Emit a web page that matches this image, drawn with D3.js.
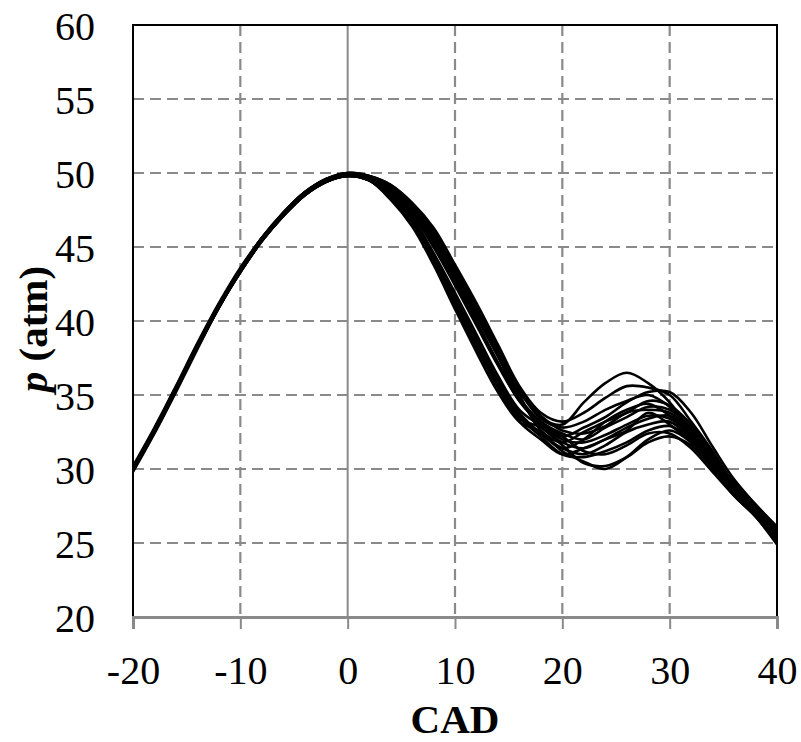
<!DOCTYPE html>
<html>
<head>
<meta charset="utf-8">
<script src="https://cdn.jsdelivr.net/npm/d3@7/dist/d3.min.js"></script>
<style>
	html, body { margin: 0; padding: 0; background: #fff; }
	svg { display: block; }
	.tick-label { font-family: 'Liberation Serif', 'Times New Roman', serif; font-size: 40px; fill: #000; }
	.axis-title { font-family: 'Liberation Serif', 'Times New Roman', serif; font-size: 41px; font-weight: bold; fill: #000; }
</style>
</head>
<body>
<div id="canvas"></div>
<script>
/* global d3 */

// Crank angle samples (CAD)
var cad = [-20, -18, -16, -14, -12, -10, -8, -6, -4, -2, 0, 2, 4, 6, 8, 10,
	12, 14, 16, 18, 20, 22, 24, 26, 28, 30, 32, 34, 36, 38, 40];

// Pressure traces (atm), one per cycle
var cycle01 = [29.9, 32.5, 35.4, 38.4, 41.1, 43.5, 45.6, 47.3, 48.7, 49.6, 50.0, 49.8, 49.2, 47.9, 46.1, 43.6, 41.0, 38.2, 35.4, 33.5, 33.0, 34.5, 35.8, 36.5, 35.8, 34.5, 32.5, 30.5, 28.8, 27.2, 25.5];
var cycle02 = [30.1, 32.7, 35.5, 38.3, 41.0, 43.3, 45.4, 47.1, 48.5, 49.4, 49.9, 49.8, 49.2, 48.0, 46.3, 43.8, 41.2, 38.4, 35.6, 33.8, 33.2, 33.8, 34.8, 35.6, 35.5, 35.0, 33.2, 31.2, 29.0, 27.4, 25.8];
var cycle03 = [30.0, 32.6, 35.3, 38.2, 40.9, 43.4, 45.5, 47.2, 48.6, 49.5, 49.8, 49.6, 48.9, 47.5, 45.5, 43.0, 40.3, 37.6, 34.8, 33.0, 32.2, 32.8, 33.5, 34.5, 35.2, 35.2, 33.8, 31.5, 29.3, 27.6, 26.0];
var cycle04 = [29.8, 32.4, 35.2, 38.1, 40.9, 43.3, 45.4, 47.1, 48.5, 49.4, 49.8, 49.5, 48.2, 46.4, 43.8, 40.8, 37.9, 35.2, 33.2, 32.5, 31.2, 30.5, 30.0, 30.8, 32.0, 32.6, 31.8, 30.2, 28.5, 27.0, 25.3];
var cycle05 = [30.0, 32.7, 35.5, 38.4, 41.1, 43.5, 45.6, 47.2, 48.6, 49.5, 49.9, 49.6, 48.3, 46.6, 44.0, 41.1, 38.2, 35.5, 33.4, 32.8, 31.6, 30.4, 30.2, 30.8, 31.8, 32.2, 31.6, 30.0, 28.2, 26.8, 25.0];
var cycle06 = [30.1, 32.6, 35.4, 38.3, 41.0, 43.4, 45.5, 47.3, 48.7, 49.6, 50.0, 49.7, 48.8, 47.4, 45.3, 42.8, 40.0, 37.2, 34.8, 33.2, 32.4, 32.0, 32.8, 33.5, 34.2, 34.0, 32.8, 30.8, 28.9, 27.3, 25.6];
var cycle07 = [29.9, 32.5, 35.3, 38.2, 41.0, 43.4, 45.4, 47.1, 48.5, 49.4, 49.8, 49.5, 48.3, 46.6, 44.1, 41.2, 38.4, 35.6, 33.2, 32.0, 31.0, 31.4, 32.0, 32.8, 33.4, 33.6, 32.4, 30.6, 28.6, 27.0, 25.2];
var cycle08 = [30.0, 32.6, 35.4, 38.3, 41.1, 43.5, 45.5, 47.2, 48.6, 49.5, 49.9, 49.7, 49.0, 47.7, 45.7, 43.2, 40.6, 37.8, 35.0, 32.6, 31.8, 32.5, 33.2, 33.8, 34.6, 34.3, 33.0, 31.0, 29.0, 27.4, 25.7];
var cycle09 = [30.2, 32.8, 35.6, 38.5, 41.2, 43.6, 45.6, 47.3, 48.7, 49.5, 49.9, 49.6, 48.7, 47.2, 45.0, 42.4, 39.7, 37.0, 34.6, 33.0, 32.0, 31.8, 32.3, 33.0, 33.6, 33.4, 32.2, 30.4, 28.7, 27.1, 25.4];
var cycle10 = [29.9, 32.5, 35.3, 38.2, 40.9, 43.3, 45.4, 47.1, 48.5, 49.4, 49.8, 49.5, 48.5, 46.9, 44.4, 41.6, 38.8, 36.0, 33.8, 32.4, 31.4, 31.0, 31.6, 32.5, 33.0, 33.2, 32.0, 30.3, 28.4, 26.9, 25.1];
var cycle11 = [30.0, 32.6, 35.5, 38.4, 41.1, 43.5, 45.6, 47.3, 48.7, 49.6, 50.0, 49.8, 49.1, 47.8, 45.9, 43.4, 40.8, 38.0, 35.3, 33.4, 32.8, 33.2, 34.0, 34.6, 35.0, 34.2, 32.6, 30.6, 28.8, 27.2, 25.5];
var cycle12 = [30.1, 32.7, 35.4, 38.3, 41.0, 43.4, 45.5, 47.2, 48.6, 49.5, 49.8, 49.5, 48.4, 46.7, 44.2, 41.4, 38.5, 35.7, 33.5, 32.2, 31.0, 30.8, 31.2, 31.8, 32.6, 32.9, 32.0, 30.4, 28.6, 27.1, 25.4];
var cycle13 = [29.9, 32.5, 35.4, 38.3, 41.0, 43.4, 45.5, 47.2, 48.6, 49.5, 49.9, 49.7, 49.0, 47.6, 45.6, 43.1, 40.5, 37.7, 35.2, 33.6, 32.6, 32.4, 32.9, 33.8, 34.0, 33.8, 32.6, 30.8, 29.1, 27.6, 26.1];
var cycle14 = [30.0, 32.6, 35.3, 38.2, 40.9, 43.3, 45.4, 47.1, 48.5, 49.4, 49.8, 49.6, 48.6, 47.0, 44.6, 41.9, 39.1, 36.3, 34.0, 32.9, 31.8, 31.4, 32.0, 32.6, 33.8, 33.0, 31.8, 30.1, 28.3, 26.8, 24.9];
var cycle15 = [30.0, 32.5, 35.4, 38.3, 41.0, 43.4, 45.5, 47.2, 48.6, 49.5, 49.9, 49.6, 48.5, 46.8, 44.3, 41.5, 38.7, 35.9, 33.7, 32.4, 31.4, 32.0, 33.2, 34.0, 34.4, 33.6, 32.2, 30.4, 28.8, 27.3, 25.6];
var cycle16 = [30.1, 32.7, 35.5, 38.4, 41.1, 43.5, 45.6, 47.3, 48.7, 49.5, 49.9, 49.7, 48.8, 47.3, 45.2, 42.6, 39.9, 37.1, 34.6, 33.1, 32.2, 31.2, 31.0, 31.6, 32.4, 32.4, 31.4, 29.8, 28.2, 26.8, 25.2];

var cycles = [cycle01, cycle02, cycle03, cycle04, cycle05, cycle06, cycle07, cycle08,
	cycle09, cycle10, cycle11, cycle12, cycle13, cycle14, cycle15, cycle16];

// Axis ticks
var xTicks = [-20, -10, 0, 10, 20, 30, 40];
var yTicks = [20, 25, 30, 35, 40, 45, 50, 55, 60];

// Layout
var outerWidth = 801,
	outerHeight = 742,
	plot = { left: 133, right: 777, top: 25, bottom: 617 };

var svg = d3.select('#canvas').append('svg')
	.attr('width', outerWidth)
	.attr('height', outerHeight);

var xScale = d3.scaleLinear().domain([-20, 40]).range([plot.left, plot.right]),
	yScale = d3.scaleLinear().domain([20, 60]).range([plot.bottom, plot.top]);

var gridColor = '#8a8a8a';

// Dashed gridlines
svg.append('g').selectAll('line')
	.data(yTicks.filter(function(d) { return d > 20; }))
	.enter().append('line')
	.attr('x1', plot.left).attr('x2', plot.right)
	.attr('y1', function(d) { return yScale(d); })
	.attr('y2', function(d) { return yScale(d); })
	.attr('stroke', gridColor)
	.attr('stroke-width', 2.2)
	.attr('stroke-dasharray', '11,6');

svg.append('g').selectAll('line')
	.data(xTicks.filter(function(d) { return d !== 0 && d > -20 && d < 40; }))
	.enter().append('line')
	.attr('y1', plot.top).attr('y2', plot.bottom)
	.attr('x1', function(d) { return xScale(d); })
	.attr('x2', function(d) { return xScale(d); })
	.attr('stroke', gridColor)
	.attr('stroke-width', 2.2)
	.attr('stroke-dasharray', '11,6');

// Vertical axis crossing at CAD 0
svg.append('line')
	.attr('x1', xScale(0)).attr('x2', xScale(0))
	.attr('y1', plot.top).attr('y2', plot.bottom)
	.attr('stroke', gridColor)
	.attr('stroke-width', 2);

// Plot frame (left, top, right)
svg.append('path')
	.attr('d', 'M' + plot.left + ',' + plot.bottom + 'V' + plot.top + 'H' + plot.right + 'V' + plot.bottom)
	.attr('fill', 'none')
	.attr('stroke', '#000')
	.attr('stroke-width', 2);

// x axis
var xAxis = d3.axisBottom(xScale)
	.tickValues(xTicks)
	.tickSize(12)
	.tickFormat(function(d) { return String(d); });

var gX = svg.append('g')
	.attr('transform', 'translate(0,' + plot.bottom + ')')
	.call(xAxis);
gX.attr('font-size', null).attr('font-family', null);
gX.select('.domain').attr('stroke', gridColor).attr('stroke-width', 3);
gX.selectAll('.tick line').attr('stroke', gridColor).attr('stroke-width', 2);
gX.selectAll('.tick text')
	.attr('class', 'tick-label')
	.attr('fill', '#000')
	.attr('y', 67)
	.attr('dy', null);

// y axis labels (no line, labels only)
var yAxis = d3.axisLeft(yScale)
	.tickValues(yTicks)
	.tickSize(0)
	.tickPadding(38)
	.tickFormat(function(d) { return String(d); });

var gY = svg.append('g')
	.attr('transform', 'translate(' + plot.left + ',0)')
	.call(yAxis);
gY.select('.domain').remove();
gY.attr('font-size', null).attr('font-family', null);
gY.selectAll('.tick text')
	.attr('class', 'tick-label')
	.attr('fill', '#000')
	.attr('dy', '0.35em');

// Pressure traces
var line = d3.line()
	.x(function(d, i) { return xScale(cad[i]); })
	.y(function(d) { return yScale(d); })
	.curve(d3.curveCatmullRom.alpha(0.5));

svg.append('g').selectAll('path')
	.data(cycles)
	.enter().append('path')
	.attr('d', line)
	.attr('fill', 'none')
	.attr('stroke', '#000')
	.attr('stroke-width', 2.6)
	.attr('stroke-linejoin', 'round');

// Axis titles
svg.append('text')
	.attr('class', 'axis-title')
	.attr('x', (plot.left + plot.right) / 2)
	.attr('y', 733)
	.attr('text-anchor', 'middle')
	.text('CAD');

var yTitle = svg.append('text')
	.attr('class', 'axis-title')
	.attr('text-anchor', 'middle')
	.attr('transform', 'translate(47,' + 329 + ') rotate(-90)');
yTitle.append('tspan').attr('font-style', 'italic').text('p');
yTitle.append('tspan').text(' (atm)');
</script>
</body>
</html>
